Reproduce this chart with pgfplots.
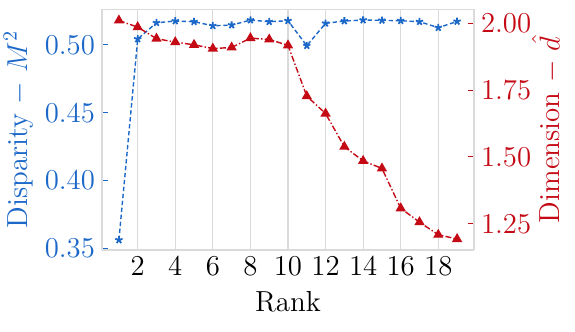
\documentclass[border=0pt]{standalone}
\usepackage{pgfplots}
\pgfplotsset{compat=1.18}
\definecolor{DispBlue}{RGB}{28,104,200}
\definecolor{DimRed}{RGB}{196,10,20}
\definecolor{FrameGray}{RGB}{218,218,218}
\begin{document}
\begin{tikzpicture}
\path[use as bounding box] (-51pt,-41pt) rectangle (236.5pt,125pt);
\pgfplotsset{
  twin/.style={
    at={(0pt,0pt)}, anchor=south west,
    scale only axis, width=186pt, height=120.25pt,
    xmin=0.1, xmax=19.9,
    axis line style={FrameGray, line width=0.6pt},
    tick label style={font=\fontsize{14.5}{17}\selectfont},
    label style={font=\fontsize{14.5}{17}\selectfont},
  }
}
\begin{axis}[twin,
  ymin=0.3487, ymax=0.5262,
  axis y line*=left, axis x line*=bottom,
  xtick={2,4,...,18}, major x tick style={draw=none},
  xmajorgrids, grid style={FrameGray, line width=0.6pt},
  ytick={0.35,0.40,0.45,0.50},
  yticklabel style={DispBlue, /pgf/number format/fixed, /pgf/number format/fixed zerofill, /pgf/number format/precision=2},
  y tick style={DispBlue, line width=0.5pt}, major tick length=3pt,
  xlabel={Rank}, ylabel={\color{DispBlue}Disparity $-$ $M^2$},
  xlabel style={yshift=-1pt},
  ylabel style={yshift=-1pt},
]
% extra frame on top
\draw[FrameGray, line width=0.6pt] (rel axis cs:0,1) -- (rel axis cs:1,1);
\addplot[DispBlue, line width=0.7pt, dash pattern=on 2.2pt off 1.3pt,
  mark=star, mark size=1.9pt, mark options={solid, line width=0.9pt}]
  coordinates {
  (1,0.3561) (2,0.5044) (3,0.5164) (4,0.5177) (5,0.5172) (6,0.5142) (7,0.5147)
  (8,0.5184) (9,0.5172) (10,0.5179) (11,0.4995) (12,0.5160) (13,0.5177)
  (14,0.5184) (15,0.5182) (16,0.5179) (17,0.5172) (18,0.5128) (19,0.5174)
  };
\end{axis}
\begin{axis}[twin,
  ymin=1.152, ymax=2.051,
  axis y line*=right, axis x line=none,
  ytick={1.25,1.50,1.75,2.00},
  yticklabel style={DimRed, /pgf/number format/fixed, /pgf/number format/fixed zerofill, /pgf/number format/precision=2},
  y tick style={DimRed, line width=0.5pt}, major tick length=3pt,
  ylabel={\color{DimRed}Dimension $-$ $\hat{d}$},
  ylabel style={yshift=6.5pt},
]
\addplot[DimRed, line width=0.7pt, dash pattern=on 3pt off 1.1pt on 0.7pt off 1.1pt,
  mark=triangle*, mark size=2.3pt, mark options={solid}]
  coordinates {
  (1,2.010) (2,1.985) (3,1.942) (4,1.929) (5,1.919) (6,1.905) (7,1.909)
  (8,1.944) (9,1.939) (10,1.917) (11,1.727) (12,1.662) (13,1.538)
  (14,1.485) (15,1.457) (16,1.308) (17,1.256) (18,1.209) (19,1.193)
  };
\end{axis}
\end{tikzpicture}
\end{document}
